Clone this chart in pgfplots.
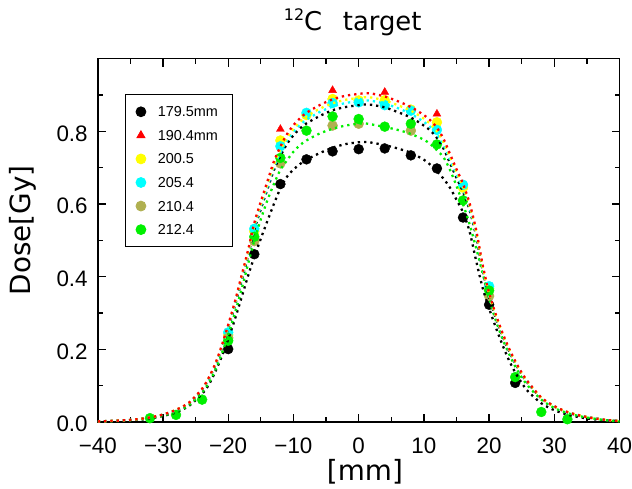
\documentclass[border=0pt]{standalone}
\usepackage{fontspec}
\setmainfont{Liberation Sans}
\newfontfamily\dejavu{DejaVu Sans}
\usepackage{pgfplots}
\usepackage{pgfplotstable}
\pgfplotsset{compat=1.18}
\definecolor{olivec}{RGB}{176,176,80}
\definecolor{grn}{RGB}{0,240,0}
\definecolor{cyn}{RGB}{0,255,255}
\definecolor{yel}{RGB}{255,255,0}

\pgfplotstableread{
x   red   yel   cya   blk2  grn   blk1
-40 0.002 0.002 0.002 0.002 0.001 0.001
-36 0.005 0.005 0.005 0.005 0.004 0.004
-34 0.008 0.008 0.008 0.008 0.007 0.006
-32 0.013 0.013 0.013 0.013 0.011 0.010
-30 0.021 0.021 0.021 0.020 0.018 0.017
-28 0.034 0.034 0.033 0.033 0.029 0.027
-26 0.054 0.053 0.053 0.052 0.047 0.045
-24 0.092 0.091 0.090 0.089 0.082 0.078
-23 0.122 0.121 0.119 0.118 0.108 0.102
-22 0.160 0.158 0.156 0.155 0.143 0.138
-21 0.210 0.207 0.205 0.203 0.188 0.180
-20 0.268 0.265 0.262 0.259 0.240 0.228
-19 0.330 0.326 0.323 0.319 0.298 0.282
-18 0.400 0.395 0.391 0.386 0.362 0.340
-17 0.470 0.464 0.460 0.454 0.432 0.400
-16 0.548 0.541 0.536 0.529 0.500 0.455
-15 0.607 0.600 0.594 0.586 0.558 0.505
-14 0.662 0.654 0.647 0.640 0.610 0.553
-13 0.717 0.708 0.701 0.693 0.655 0.600
-12 0.758 0.749 0.741 0.732 0.694 0.643
-11 0.792 0.782 0.775 0.765 0.720 0.675
-10 0.817 0.807 0.799 0.789 0.744 0.695
-9  0.836 0.826 0.818 0.808 0.762 0.710
-8  0.851 0.841 0.832 0.822 0.775 0.722
-6  0.872 0.862 0.853 0.842 0.794 0.740
-4  0.888 0.877 0.868 0.858 0.807 0.755
-2  0.898 0.887 0.878 0.867 0.816 0.765
0   0.903 0.892 0.883 0.872 0.821 0.770
1   0.905 0.894 0.885 0.874 0.822 0.771
2   0.904 0.893 0.884 0.873 0.819 0.769
4   0.896 0.885 0.876 0.866 0.812 0.762
6   0.883 0.872 0.864 0.853 0.804 0.753
8   0.867 0.857 0.848 0.838 0.793 0.741
10  0.845 0.835 0.826 0.816 0.777 0.722
11  0.830 0.820 0.812 0.802 0.765 0.708
12  0.810 0.800 0.792 0.782 0.748 0.690
13  0.780 0.771 0.763 0.753 0.729 0.670
14  0.738 0.729 0.722 0.713 0.694 0.645
15  0.696 0.688 0.681 0.672 0.650 0.612
16  0.656 0.648 0.642 0.634 0.600 0.577
17  0.603 0.596 0.590 0.584 0.545 0.525
18  0.530 0.524 0.518 0.512 0.480 0.445
19  0.434 0.427 0.423 0.419 0.410 0.370
20  0.355 0.351 0.347 0.343 0.340 0.313
21  0.298 0.294 0.291 0.288 0.281 0.262
22  0.248 0.245 0.243 0.240 0.232 0.215
23  0.205 0.203 0.200 0.198 0.190 0.172
24  0.168 0.166 0.164 0.162 0.153 0.137
25  0.136 0.134 0.133 0.131 0.123 0.108
26  0.110 0.109 0.108 0.106 0.099 0.084
28  0.068 0.067 0.067 0.066 0.062 0.052
30  0.044 0.043 0.043 0.043 0.039 0.033
32  0.028 0.028 0.027 0.027 0.025 0.021
34  0.018 0.018 0.018 0.017 0.016 0.013
36  0.011 0.011 0.011 0.011 0.010 0.008
38  0.006 0.006 0.006 0.006 0.005 0.005
40  0.003 0.003 0.003 0.003 0.002 0.003
}\fits

\begin{document}
\begin{tikzpicture}
\begin{axis}[
  scale only axis, width=524.7pt, height=365.5pt,
  xmin=-40, xmax=40, ymin=0, ymax=1.0,
  clip mode=individual,
  axis line style={line width=1.5pt},
  tick style={line width=1.3pt, black},
  tick align=inside,
  xtick={-40,-30,...,40},
  xticklabels={−40,−30,−20,−10,0,10,20,30,40},
  minor xtick={-35,-25,...,35},
  ytick={0,0.2,0.4,0.6,0.8},
  yticklabels={0.0,0.2,0.4,0.6,0.8},
  minor ytick={0.1,0.3,0.5,0.7,0.9},
  major tick length=8pt, minor tick length=5pt,
  ticklabel style={font=\fontsize{22.5}{22.5}\selectfont},
  xticklabel style={inner sep=0pt, anchor=north, yshift=-16pt},
  yticklabel style={inner sep=0pt, anchor=east, xshift=-10pt, yshift=-2pt},
  xlabel={[mm]}, ylabel={Dose[Gy]},
  label style={font=\dejavu\fontsize{28}{28}\selectfont},
  xlabel style={at={(axis description cs:0.512,-0.137)}, anchor=center},
  ylabel style={at={(axis description cs:-0.143,0.5275)}, anchor=center},
  legend style={at={(axis description cs:0.0515,0.9015)}, anchor=north west,
    draw=black, line width=0.8pt, fill=white,
    font=\fontsize{14.5}{14.5}\selectfont,
    inner xsep=11pt, inner ysep=8pt, row sep=5.7pt, column sep=8pt,
    nodes={inner sep=4pt, text height=10pt, text depth=0pt}},
  legend cell align=left,
  mk/.style={only marks, mark=*, mark size=5pt,
    legend image code/.code={\draw[mark repeat=2,mark phase=2,##1] plot coordinates {(0pt,0pt)(6pt,0pt)(12pt,0pt)};}},
  curve/.style={line width=2.3pt, dash pattern=on 2.3pt off 4pt, smooth, forget plot},
]
% data points
\addplot[mk, black, mark options={fill=black, draw=black}] coordinates {
(-20,0.201)(-16,0.462)(-12,0.655)(-8,0.723)(-4,0.745)(0,0.751)(4,0.753)(8,0.734)(12,0.698)(16,0.563)(20,0.323)(24,0.108)};
\addlegendentry{179.5mm}
\addplot[mk, red, mark=triangle*, mark size=4.6pt, mark options={fill=red, draw=red}] coordinates {
(-12,0.806)(-4,0.913)(4,0.908)(12,0.848)};
\addlegendentry{190.4mm}
\addplot[mk, yel, mark options={fill=yel, draw=yel}] coordinates {
(-20,0.240)(-16,0.525)(-12,0.775)(-8,0.845)(-4,0.889)(0,0.885)(4,0.886)(8,0.860)(12,0.825)(16,0.645)(20,0.368)};
\addlegendentry{200.5}
\addplot[mk, cyn, mark options={fill=cyn, draw=cyn}] coordinates {
(-20,0.247)(-16,0.532)(-12,0.759)(-8,0.851)(-4,0.878)(0,0.880)(4,0.872)(8,0.857)(12,0.804)(16,0.653)(20,0.374)};
\addlegendentry{205.4}
\addplot[mk, olivec, mark options={fill=olivec, draw=olivec}] coordinates {
(-20,0.232)(-16,0.498)(-12,0.712)(-4,0.816)(0,0.821)(8,0.802)(20,0.347)};
\addlegendentry{210.4}
\addplot[mk, grn, mark options={fill=grn, draw=grn}] coordinates {
(-32,0.011)(-28,0.020)(-24,0.062)(-20,0.224)(-16,0.510)(-12,0.727)(-8,0.802)(-4,0.841)(0,0.834)(4,0.813)(8,0.821)(12,0.764)(16,0.610)(20,0.362)(24,0.124)(28,0.028)(32,0.008)};
\addlegendentry{212.4}
% fitted curves
\addplot[curve, black] table[x=x, y=blk1] {\fits};
\addplot[curve, grn] table[x=x, y=grn] {\fits};
\addplot[curve, black] table[x=x, y=blk2] {\fits};
\addplot[curve, cyn] table[x=x, y=cya] {\fits};
\addplot[curve, yel] table[x=x, y=yel] {\fits};
\addplot[curve, red] table[x=x, y=red] {\fits};
\end{axis}
\node[anchor=base, inner sep=0pt, font=\dejavu\fontsize{26}{26}\selectfont]
  at ([xshift=-6pt,yshift=28.3pt]current axis.north)
  {\raisebox{10pt}{\fontsize{16}{16}\selectfont 12}C\hspace{0.8em}target};
\path (current axis.south west) ++(-98.3pt,-66.5pt) coordinate (BL);
\path (current axis.north east) ++(9.3pt,59pt) coordinate (TR);
\path (BL) rectangle (TR);
\end{tikzpicture}
\end{document}
